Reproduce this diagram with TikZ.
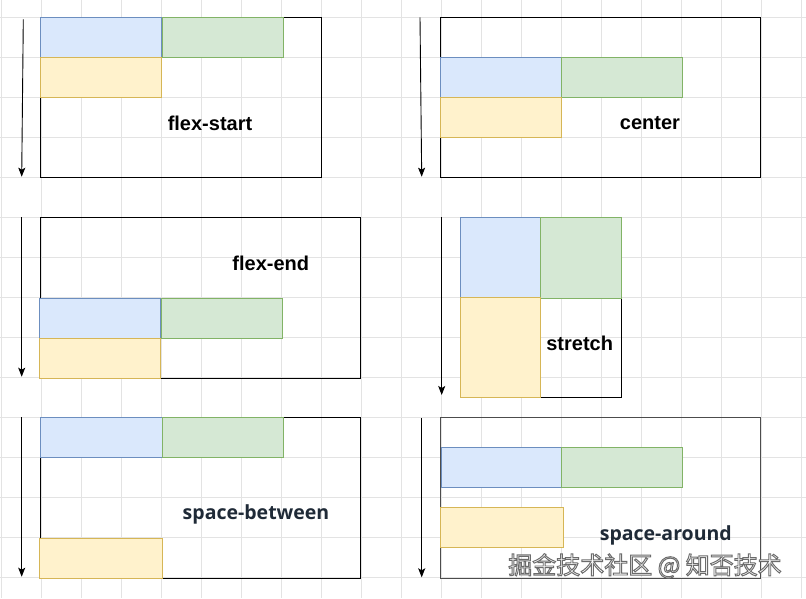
\documentclass[tikz,border=0pt]{standalone}
\usepackage{fontspec}
\newfontfamily\arialfont{Liberation Sans}
\newfontfamily\uifont{Open Sans}
\newfontfamily\cjkfont[FakeBold=4]{Noto Sans CJK SC}
\usetikzlibrary{arrows.meta}
\usetikzlibrary{positioning}

\definecolor{blueFill}{HTML}{DAE8FC}
\definecolor{blueLine}{HTML}{6C8EBF}
\definecolor{greenFill}{HTML}{D5E8D4}
\definecolor{greenLine}{HTML}{82B366}
\definecolor{yellowFill}{HTML}{FFF2CC}
\definecolor{yellowLine}{HTML}{D6B656}
\definecolor{gridGray}{HTML}{E3E3E3}
\definecolor{slateText}{HTML}{1F2A37}

\begin{document}
\begin{tikzpicture}[x=1pt,y=-1pt,
  item/.style={draw,line width=0.8pt,anchor=north west,inner sep=0pt,
    minimum width=121pt,minimum height=40pt},
  blueitem/.style={item,fill=blueFill,draw=blueLine},
  greenitem/.style={item,fill=greenFill,draw=greenLine},
  yellowitem/.style={item,fill=yellowFill,draw=yellowLine},
  frame/.style={line width=1pt,black},
  flow/.style={line width=0.9pt,-{Stealth[length=9pt,width=7pt,inset=2pt]}},
  caption/.style={anchor=base,inner sep=0pt,
    font=\arialfont\bfseries\fontsize{20}{20}\selectfont},
  uicaption/.style={anchor=base,inner sep=0pt,text=slateText,
    font=\uifont\bfseries\fontsize{19.5}{20}\selectfont},
  watermark/.style={anchor=base,inner sep=0pt,text=white,
    font=\cjkfont\fontsize{24}{24}\selectfont}]
\useasboundingbox (0,0) rectangle (806,598);
\fill[white] (0,0) rectangle (806,598);

% background grid
\foreach \k in {0,...,20}
  \draw[gridGray,line width=0.8pt] (1.7+40*\k,0) -- (1.7+40*\k,598);
\foreach \k in {0,...,14}
  \draw[gridGray,line width=0.8pt] (0,17.3+40*\k) -- (806,17.3+40*\k);

% frames
\draw[frame] (40,17.3) rectangle (321.3,177.3);
\draw[frame] (440,17.3) rectangle (760.7,177.3);
\draw[frame] (40.7,217.3) rectangle (360.7,378.3);
\draw[frame] (460,217.3) rectangle (621.7,397.3);
\draw[frame] (40,417.3) rectangle (360.7,578.3);
\draw[frame,black!70] (440.7,417.7) rectangle (760.7,578.3);

% flex-start
\node[blueitem] (startA) at (40,17.3) {};
\node[greenitem] (startB) at (161.7,17.3) {};
\node[yellowitem] (startC) at (40,57.3) {};
\node[caption] (startLbl) at (210,130) {flex-start};

% center
\node[blueitem] (centerA) at (440,57.3) {};
\node[greenitem] (centerB) at (561.3,57.3) {};
\node[yellowitem] (centerC) at (440,97.3) {};
\node[caption] (centerLbl) at (650,129.3) {center};

% flex-end
\node[blueitem] (endA) at (39.3,298.3) {};
\node[greenitem] (endB) at (160.7,298.3) {};
\node[yellowitem] (endC) at (39.3,338.3) {};
\node[caption] (endLbl) at (270.8,270) {flex-end};

% stretch
\node[blueitem,minimum width=80pt,minimum height=80pt] (stretchA) at (460,217.3) {};
\node[greenitem,minimum width=81.3pt,minimum height=81pt] (stretchB) at (540,217.3) {};
\node[yellowitem,minimum width=80pt,minimum height=100pt] (stretchC) at (460,297.3) {};
\node[caption] (stretchLbl) at (579.7,350) {stretch};

% space-between
\node[blueitem,minimum width=122.3pt] (betweenA) at (40,417.3) {};
\node[greenitem] (betweenB) at (162.3,417.3) {};
\node[yellowitem,minimum width=122.4pt] (betweenC) at (39.3,538.3) {};
\node[uicaption] (betweenLbl) at (256,519.3) {space-between};

% space-around
\node[blueitem,minimum width=120pt] (aroundA) at (440.7,447.3) {};
\node[greenitem] (aroundB) at (560.7,447.3) {};
\node[yellowitem,minimum width=122.7pt] (aroundC) at (440,506.7) {};
\node[uicaption] (aroundLbl) at (665.8,540) {space-around};

% cross axis arrows
\coordinate (sOne) at (23.3,19.3);   \coordinate (tOne) at (21.7,176.7);
\coordinate (sTwo) at (420,17.3);    \coordinate (tTwo) at (421.7,176.7);
\coordinate (sThree) at (21.7,217.3); \coordinate (tThree) at (21.7,376.7);
\coordinate (sFour) at (441.7,217.3); \coordinate (tFour) at (441.7,395);
\coordinate (sFive) at (21.7,417.3);  \coordinate (tFive) at (21.7,576.7);
\coordinate (sSix) at (421.7,418.3);  \coordinate (tSix) at (421.7,577.3);
\draw[flow] (sOne) -- (tOne);
\draw[flow] (sTwo) -- (tTwo);
\draw[flow] (sThree) -- (tThree);
\draw[flow] (sFour) -- (tFour);
\draw[flow] (sFive) -- (tFive);
\draw[flow] (sSix) -- (tSix);

% watermark, white letters with a grey stroke
\node[watermark] (wmText) at (645,574) {\special{pdf:code 0.42 G}掘金技术社区 @ 知否技术};
\end{tikzpicture}
\end{document}
